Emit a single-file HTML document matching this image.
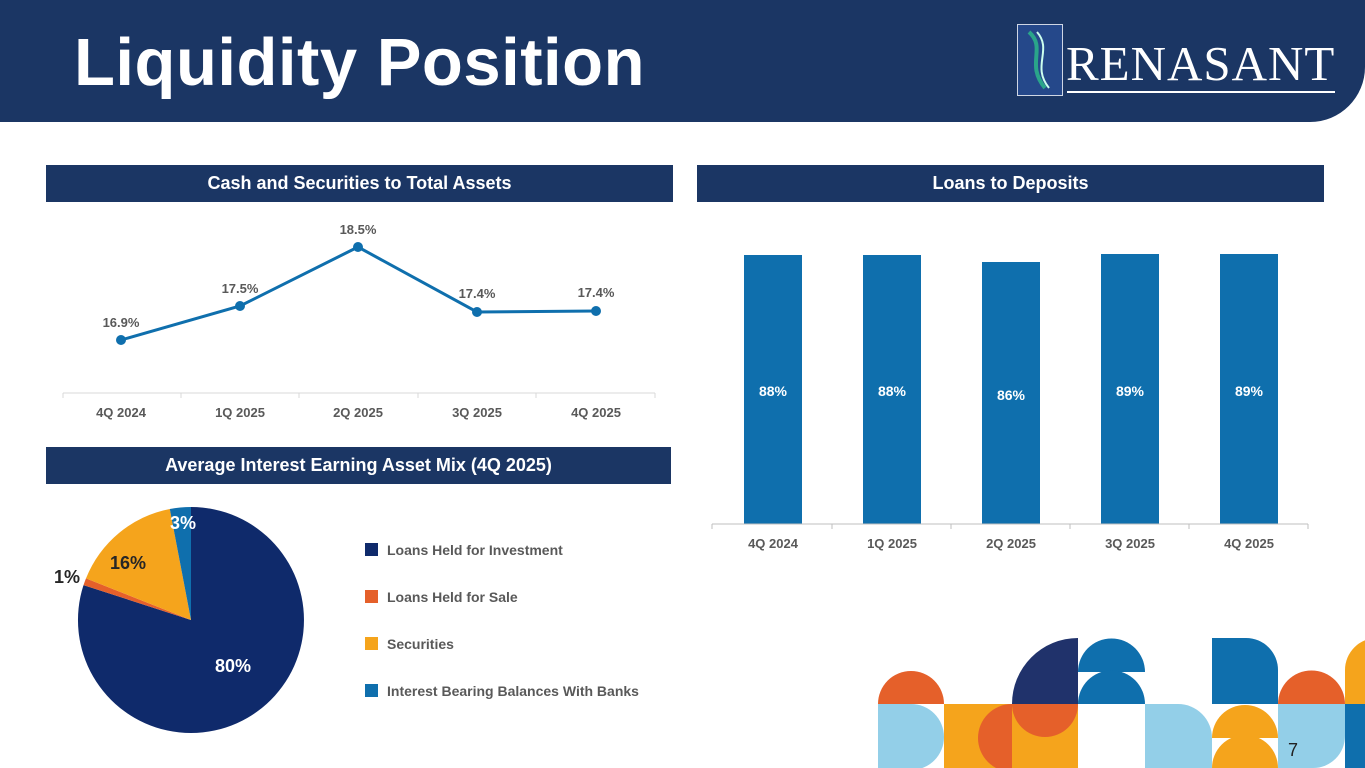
<!DOCTYPE html>
<html><head><style>
body{margin:0;width:1365px;height:768px;overflow:hidden;background:#fff;font-family:"Liberation Sans",Arial,sans-serif;position:relative}
.hdr{position:absolute;left:0;top:0;width:1365px;height:122px;background:#1b3664;border-bottom-right-radius:55px}
.title{position:absolute;left:74px;top:24px;color:#fff;font-weight:bold;font-size:67px;letter-spacing:0.5px}
.sec{position:absolute;background:#1b3664;color:#fff;font-weight:bold;font-size:18px;text-align:center;line-height:37px;height:37px}
.d{position:absolute}
</style></head><body>
<div class="hdr"></div>
<div class="title">Liquidity Position</div>
<div class="d" style="left:1017px;top:24px;width:44px;height:70px;border:1px solid #cfd6e4;background:#25488a"></div>
<svg class="d" style="left:1017px;top:24px" width="46" height="72"><path d="M12 8 C30 24,8 40,28 64" stroke="#2aa58a" stroke-width="4" fill="none"/><path d="M20 8 C36 26,14 42,32 64" stroke="#cfe" stroke-width="2" fill="none"/></svg>
<div class="d" style="left:1066px;top:38px;color:#fff;font-family:'Liberation Serif',serif;font-size:49px;letter-spacing:1px;line-height:52px">RENASANT</div>
<div class="d" style="left:1067px;top:91px;width:268px;height:2px;background:#fff"></div>

<div class="sec" style="left:46px;top:165px;width:627px">Cash and Securities to Total Assets</div>
<div class="sec" style="left:697px;top:165px;width:627px">Loans to Deposits</div>
<div class="sec" style="left:46px;top:447px;width:625px">Average Interest Earning Asset Mix (4Q 2025)</div>

<svg class="d" style="left:0;top:0" width="1365" height="768" font-family="Liberation Sans,Arial,sans-serif">
<g fill="#595959" font-size="13" font-weight="bold" text-anchor="middle">
<line x1="63" y1="393" x2="655" y2="393" stroke="#d9d9d9"/>
<g stroke="#d9d9d9"><line x1="63" y1="393" x2="63" y2="398"/><line x1="181" y1="393" x2="181" y2="398"/><line x1="299" y1="393" x2="299" y2="398"/><line x1="418" y1="393" x2="418" y2="398"/><line x1="536" y1="393" x2="536" y2="398"/><line x1="655" y1="393" x2="655" y2="398"/></g>
<polyline points="121,340 240,306 358,247 477,312 596,311" fill="none" stroke="#0f6fad" stroke-width="3"/>
<g fill="#0f6fad"><circle cx="121" cy="340" r="5"/><circle cx="240" cy="306" r="5"/><circle cx="358" cy="247" r="5"/><circle cx="477" cy="312" r="5"/><circle cx="596" cy="311" r="5"/></g>
<text x="121" y="327">16.9%</text><text x="240" y="293">17.5%</text><text x="358" y="234">18.5%</text><text x="477" y="298">17.4%</text><text x="596" y="297">17.4%</text>
<text x="121" y="417">4Q 2024</text><text x="240" y="417">1Q 2025</text><text x="358" y="417">2Q 2025</text><text x="477" y="417">3Q 2025</text><text x="596" y="417">4Q 2025</text>

<g fill="#0f6fad"><rect x="744" y="255" width="58" height="269"/><rect x="863" y="255" width="58" height="269"/><rect x="982" y="262" width="58" height="262"/><rect x="1101" y="254" width="58" height="270"/><rect x="1220" y="254" width="58" height="270"/></g>
<line x1="712" y1="524" x2="1308" y2="524" stroke="#bfbfbf"/>
<g stroke="#bfbfbf"><line x1="712" y1="524" x2="712" y2="529"/><line x1="832" y1="524" x2="832" y2="529"/><line x1="951" y1="524" x2="951" y2="529"/><line x1="1070" y1="524" x2="1070" y2="529"/><line x1="1189" y1="524" x2="1189" y2="529"/><line x1="1308" y1="524" x2="1308" y2="529"/></g>
<g fill="#fff" font-size="14"><text x="773" y="396">88%</text><text x="892" y="396">88%</text><text x="1011" y="400">86%</text><text x="1130" y="396">89%</text><text x="1249" y="396">89%</text></g>
<text x="773" y="548">4Q 2024</text><text x="892" y="548">1Q 2025</text><text x="1011" y="548">2Q 2025</text><text x="1130" y="548">3Q 2025</text><text x="1249" y="548">4Q 2025</text>
</g>

<g transform="translate(191,620)">
<path d="M0 0 L0 -113 A113 113 0 1 1 -107.5 -34.9 Z" fill="#0f2a6b"/>
<path d="M0 0 L-107.5 -34.9 A113 113 0 0 1 -105.0 -41.6 Z" fill="#e5602a"/>
<path d="M0 0 L-105.0 -41.6 A113 113 0 0 1 -21.2 -111 Z" fill="#f5a41c"/>
<path d="M0 0 L-21.2 -111 A113 113 0 0 1 0 -113 Z" fill="#0f6fad"/>
</g>
<g font-weight="bold" font-size="18">
<text x="233" y="672" fill="#fff" text-anchor="middle">80%</text>
<text x="128" y="569" fill="#262626" text-anchor="middle">16%</text>
<text x="183" y="529" fill="#fff" text-anchor="middle">3%</text>
<text x="67" y="583" fill="#262626" text-anchor="middle">1%</text>
</g>
<g font-size="14" font-weight="bold" fill="#595959">
<rect x="365" y="543" width="13" height="13" fill="#0f2a6b"/><text x="387" y="555">Loans Held for Investment</text>
<rect x="365" y="590" width="13" height="13" fill="#e5602a"/><text x="387" y="602">Loans Held for Sale</text>
<rect x="365" y="637" width="13" height="13" fill="#f5a41c"/><text x="387" y="649">Securities</text>
<rect x="365" y="684" width="13" height="13" fill="#0f6fad"/><text x="387" y="696">Interest Bearing Balances With Banks</text>
</g>

<path d="M878 704 A33 33 0 0 1 944 704 Z" fill="#e5602a"/>
<path d="M878 704 H911 A33 33 0 0 1 911 770 H878 Z" fill="#93cfe8"/>
<rect x="944" y="704" width="68" height="64" fill="#f5a41c"/>
<path d="M1012 704 A34 34 0 0 0 1012 772 Z" fill="#e5602a"/>
<path d="M1012 704 A66 66 0 0 1 1078 638 V704 Z" fill="#20326b"/>
<rect x="1012" y="704" width="66" height="64" fill="#f5a41c"/>
<path d="M1012 704 A33 33 0 0 0 1078 704 Z" fill="#e5602a"/>
<path d="M1078 672 A33 33 0 0 1 1145 672 Z" fill="#0f6fad"/>
<path d="M1078 704 A33 33 0 0 1 1145 704 Z" fill="#0f6fad"/>
<path d="M1145 704 H1178 A34 34 0 0 1 1212 738 V768 H1145 Z" fill="#93cfe8"/>
<path d="M1212 638 H1246 A32 32 0 0 1 1278 670 V704 H1212 Z" fill="#0f6fad"/>
<path d="M1212 768 A33 33 0 0 1 1278 768 Z" fill="#f5a41c"/>
<path d="M1212 738 A33 33 0 0 1 1278 738 Z" fill="#f5a41c"/>
<path d="M1278 704 A33 33 0 0 1 1345 704 Z" fill="#e5602a"/>
<path d="M1278 704 H1345 V736 A32 32 0 0 1 1313 768 H1278 Z" fill="#93cfe8"/>
<path d="M1345 704 V670 A32 32 0 0 1 1377 638 V704 Z" fill="#f5a41c"/>
<rect x="1345" y="704" width="20" height="64" fill="#0f6fad"/>
<text x="1293" y="756" font-size="18" fill="#222" text-anchor="middle">7</text>
</svg>
</body></html>
